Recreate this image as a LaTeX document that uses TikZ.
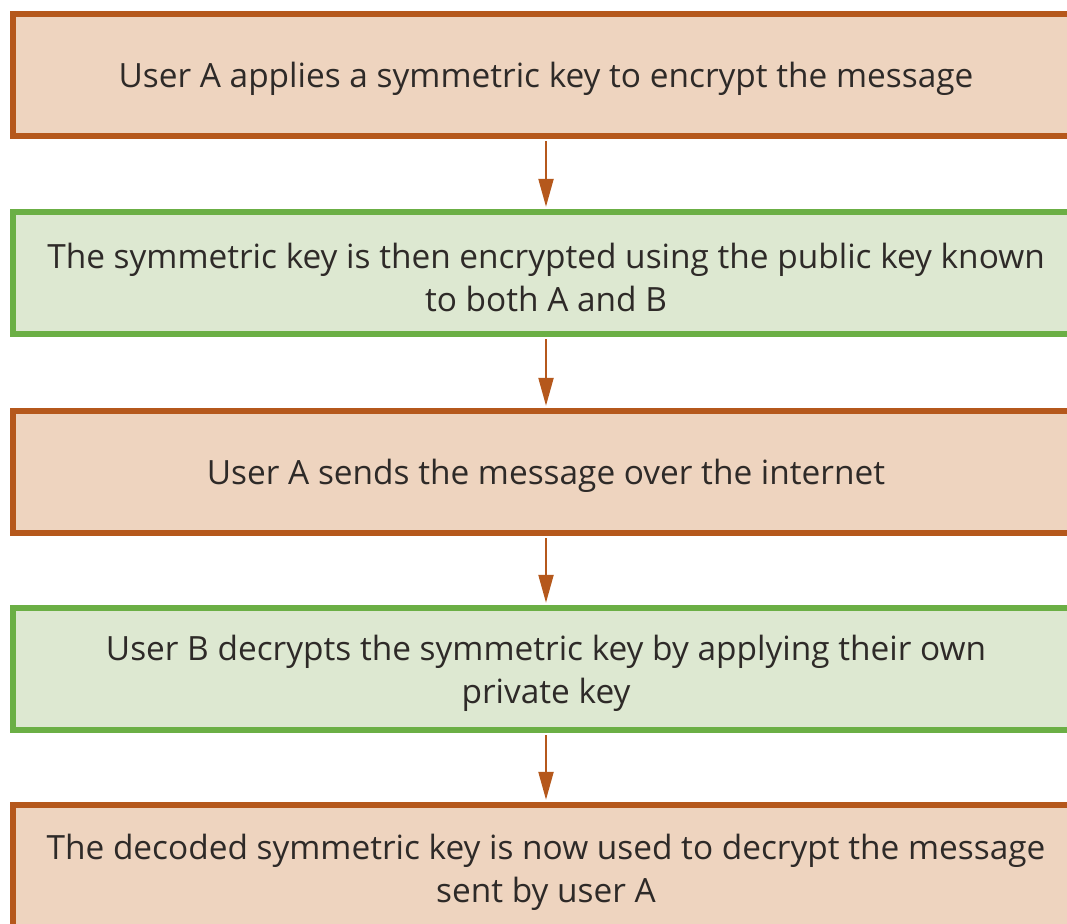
\documentclass[tikz,border=0pt]{standalone}
\usepackage{fontspec}
\setmainfont{Open Sans}
\usetikzlibrary{arrows.meta}
\definecolor{obord}{HTML}{B5581C}
\definecolor{ofill}{HTML}{EED4BF}
\definecolor{gbord}{HTML}{6BAF45}
\definecolor{gfill}{HTML}{DDE8D1}
\definecolor{txt}{HTML}{2E2A28}
\tikzset{
  box/.style={rectangle, line width=5.5pt, minimum width=1066pt, minimum height=122pt,
    inner sep=0pt},
  lbl/.style={inner sep=0pt, align=center, text=txt, font=\fontsize{33.4}{43}\selectfont, yshift=-4pt},
  obox/.style={box, draw=obord, fill=ofill},
  gbox/.style={box, draw=gbord, fill=gfill},
  arr/.style={draw=obord, line width=2.2pt, -{Triangle[length=28pt,width=15pt]}, shorten >=2.5pt, shorten <=2.5pt}
}
\begin{document}
\begin{tikzpicture}[x=1pt,y=-1pt]
\useasboundingbox (0,0) rectangle (1067,923);
\clip (0,0) rectangle (1067,923);
\fill[white] (0,0) rectangle (1067,923);
\node[obox, label={[lbl]center:{User A applies a symmetric key to encrypt the message}}] (b1) at (546,75) {};
\node[gbox, label={[lbl]center:{The symmetric key is then encrypted using the public key known\\to both A and B}}] (b2) at (546,273) {};
\node[obox, label={[lbl]center:{User A sends the message over the internet}}] (b3) at (546,472) {};
\node[gbox, label={[lbl]center:{User B decrypts the symmetric key by applying their own\\private key}}] (b4) at (546,669) {};
\node[obox, label={[lbl,yshift=-2pt]center:{The decoded symmetric key is now used to decrypt the message\\sent by user A}}] (b5) at (546,866) {};
\draw[arr] (b1.south) -- (b2.north);
\draw[arr] (b2.south) -- (b3.north);
\draw[arr] (b3.south) -- (b4.north);
\draw[arr] (b4.south) -- (b5.north);
\end{tikzpicture}
\end{document}
